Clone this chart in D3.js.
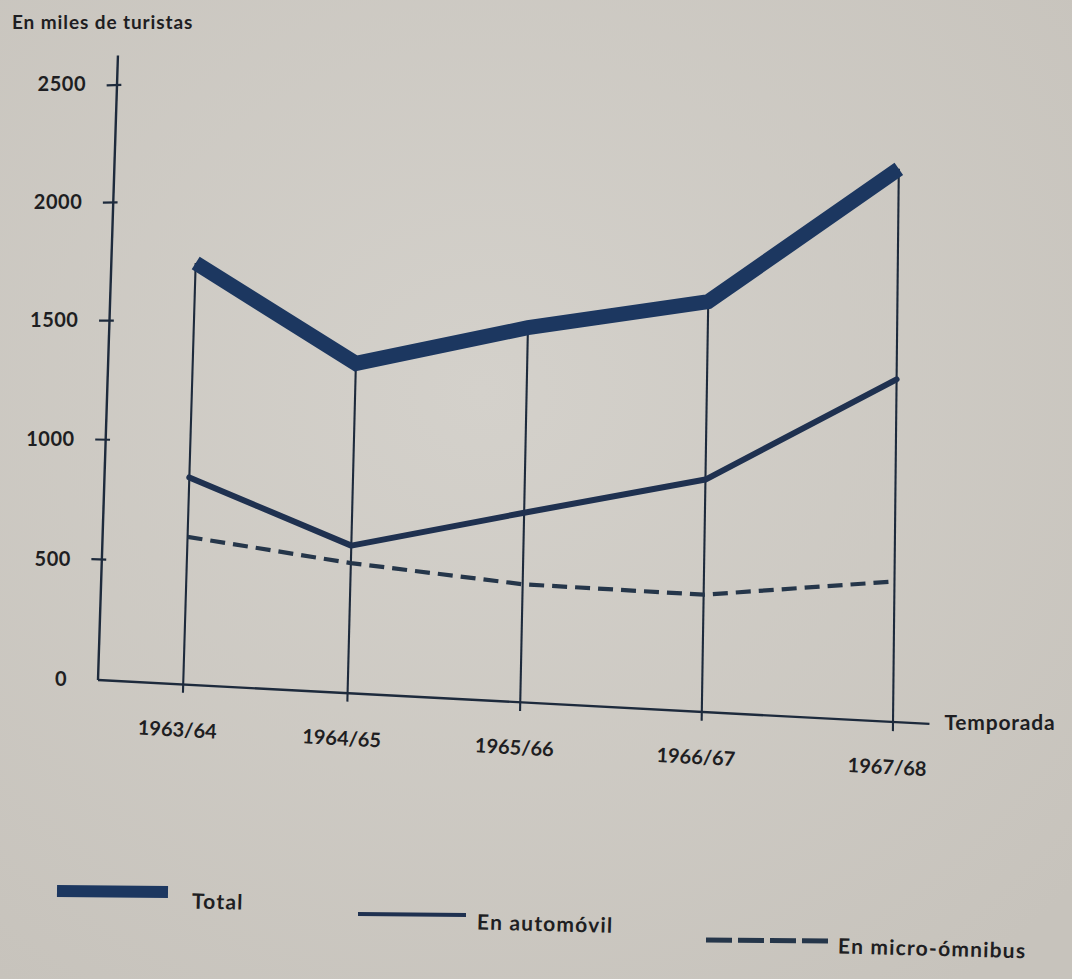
<!DOCTYPE html>
<html>
<head>
<meta charset="utf-8">
<script src="https://cdn.jsdelivr.net/npm/d3@7"></script>
<style>
html,body{margin:0;padding:0;background:#cdcac4;}
svg{display:block;}
text{font-family:"Lato","Open Sans",sans-serif;font-weight:700;fill:#1e1e22;}
</style>
</head>
<body>
<svg id="chart" width="1072" height="979"></svg>
<script>
// ---- data ----
const categories = ["1963/64", "1964/65", "1965/66", "1966/67", "1967/68"];
const total = [1740, 1325, 1470, 1570, 2070];
const automovil = [850, 590, 740, 885, 1275];
const microOmnibus = [605, 520, 460, 445, 520];
const yTicks = [0, 500, 1000, 1500, 2000, 2500];
const yTickLabels = ["0", "500", "1000", "1500", "2000", "2500"];
const seriesNames = ["Total", "En automóvil", "En micro-ómnibus"];
const yTitle = "En miles de turistas";
const xTitle = "Temporada";

// ---- layout ----
const W = 1072, H = 979;
const svg = d3.select("#chart");

// plot-space scales (flat sheet), then projected to the photographed sheet
const x = d3.scalePoint().domain(categories).range([96, 810]);
const y = d3.scaleLinear().domain([0, 2500]).range([0, 595]);

// homography: plot corners -> photographed corners
const src = [[0, 0], [0, 595], [810, 0], [810, 595]];
const dst = [[98, 680], [117, 85], [893, 722], [900, 56]];
function solveH(src, dst) {
  const A = [], b = [];
  for (let i = 0; i < 4; i++) {
    const [sx, sy] = src[i], [X, Y] = dst[i];
    A.push([sx, sy, 1, 0, 0, 0, -sx * X, -sy * X]); b.push(X);
    A.push([0, 0, 0, sx, sy, 1, -sx * Y, -sy * Y]); b.push(Y);
  }
  const n = 8;
  for (let c = 0; c < n; c++) {
    let p = c;
    for (let r = c + 1; r < n; r++) if (Math.abs(A[r][c]) > Math.abs(A[p][c])) p = r;
    [A[c], A[p]] = [A[p], A[c]]; [b[c], b[p]] = [b[p], b[c]];
    for (let r = 0; r < n; r++) {
      if (r === c) continue;
      const f = A[r][c] / A[c][c];
      for (let k = c; k < n; k++) A[r][k] -= f * A[c][k];
      b[r] -= f * b[c];
    }
  }
  return b.map((v, i) => v / A[i][i]);
}
const h = solveH(src, dst);
function P(px, py) {
  const w = h[6] * px + h[7] * py + 1;
  return [(h[0] * px + h[1] * py + h[2]) / w, (h[3] * px + h[4] * py + h[5]) / w];
}

// background paper
const defs = svg.append("defs");
const rg = defs.append("radialGradient").attr("id", "paper").attr("cx", "45%").attr("cy", "40%").attr("r", "75%");
rg.append("stop").attr("offset", "0%").attr("stop-color", "#d4d1cb");
rg.append("stop").attr("offset", "100%").attr("stop-color", "#c7c3bc");
svg.append("rect").attr("width", W).attr("height", H).attr("fill", "url(#paper)");

const ink = "#1d2a3c";
const seg = (a, b) => "M" + a[0] + "," + a[1] + "L" + b[0] + "," + b[1];

// y axis
svg.append("path").attr("d", seg(P(0, 0), P(0, 625)))
  .attr("stroke", ink).attr("stroke-width", 2.4).attr("fill", "none");
// x axis
svg.append("path").attr("d", seg(P(0, 0), P(843, 0)))
  .attr("stroke", ink).attr("stroke-width", 2.4).attr("fill", "none");

// y ticks + labels
yTicks.forEach((t, i) => {
  if (t > 0) {
    svg.append("path").attr("d", seg(P(-12, y(t)), P(5, y(t))))
      .attr("stroke", ink).attr("stroke-width", 2.2);
  }
  const p = P(0, y(t));
  svg.append("text").attr("x", p[0] - 31).attr("y", p[1] + 1)
    .attr("text-anchor", "end").attr("dominant-baseline", "middle")
    .attr("font-size", 20).attr("letter-spacing", 0.5).text(yTickLabels[i]);
});

// vertical drop lines at each season up to the total line
categories.forEach((c, i) => {
  svg.append("path").attr("d", seg(P(x(c), -8), P(x(c), y(total[i]))))
    .attr("stroke", ink).attr("stroke-width", 2.1).attr("fill", "none");
  const p = P(x(c), 0);
  svg.append("text").attr("x", p[0] - 6).attr("y", p[1] + 47)
    .attr("text-anchor", "middle").attr("dominant-baseline", "middle")
    .attr("font-size", 20)
    .attr("transform", `rotate(3 ${p[0] - 6} ${p[1] + 47})`)
    .text(c);
});

// series lines
const mk = arr => categories.map((c, i) => P(x(c), y(arr[i])));
const line = d3.line().x(d => d[0]).y(d => d[1]);

svg.append("path").attr("d", line(mk(microOmnibus)))
  .attr("fill", "none").attr("stroke", "#25364a").attr("stroke-width", 4.2)
  .attr("stroke-dasharray", "15 8");
svg.append("path").attr("d", line(mk(automovil)))
  .attr("fill", "none").attr("stroke", "#1f3150").attr("stroke-width", 6)
  .attr("stroke-linejoin", "round").attr("stroke-linecap", "round");
svg.append("path").attr("d", line(mk(total)))
  .attr("fill", "none").attr("stroke", "#1c3760").attr("stroke-width", 15)
  .attr("stroke-linejoin", "miter").attr("stroke-linecap", "butt");

// titles
svg.append("text").attr("x", 12).attr("y", 24).attr("dominant-baseline", "middle")
  .attr("font-size", 19).attr("letter-spacing", 0.9).text(yTitle);
const ax = P(843, 0);
svg.append("text").attr("x", ax[0] + 15).attr("y", ax[1] + 1).attr("dominant-baseline", "middle")
  .attr("font-size", 21).attr("letter-spacing", 0.8).text(xTitle);

// legend
const legend = [
  { x1: 57, x2: 168, y: 891, w: 12, dash: null, tx: 192, ty: 903, col: "#1c3760" },
  { x1: 358, x2: 466, y: 914, w: 4, dash: null, tx: 477, ty: 924, col: "#1f3150" },
  { x1: 706, x2: 828, y: 940, w: 5, dash: "26 6", tx: 838, ty: 948, col: "#25364a" }
];
legend.forEach((l, i) => {
  svg.append("path").attr("d", seg([l.x1, l.y], [l.x2, l.y + 1]))
    .attr("stroke", l.col).attr("stroke-width", l.w)
    .attr("stroke-dasharray", l.dash);
  svg.append("text").attr("x", l.tx).attr("y", l.ty).attr("dominant-baseline", "middle")
    .attr("font-size", 21).attr("letter-spacing", 1.2)
    .attr("transform", `rotate(1.5 ${l.tx} ${l.ty})`).text(seriesNames[i]);
});
</script>
</body>
</html>
